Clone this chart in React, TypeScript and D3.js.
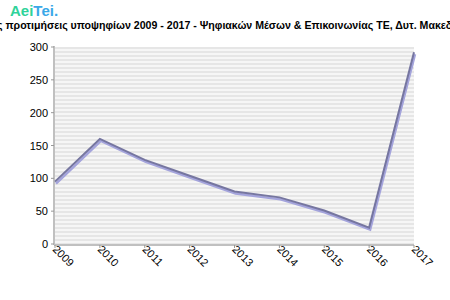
import React from "react";
import * as d3 from "d3";

const years = ["2009", "2010", "2011", "2012", "2013", "2014", "2015", "2016", "2017"];
const values = [95, 160, 128, 104, 80, 71, 51, 25, 292];
const yTicks = [0, 50, 100, 150, 200, 250, 300];
const title = "Πρώτες προτιμήσεις υποψηφίων 2009 - 2017 - Ψηφιακών Μέσων & Επικοινωνίας ΤΕ, Δυτ. Μακεδονίας";

const W = 450, H = 300;
const left = 55, right = 414, top = 47, bottom = 244;

export default function App() {
  const x = d3.scalePoint<string>().domain(years).range([left, right]);
  const y = d3.scaleLinear().domain([0, 300]).range([bottom, top]);
  const pts: [number, number][] = years.map((yr, i) => [x(yr)!, y(values[i])]);
  const line = d3.line<[number, number]>();
  const stripes: number[] = [];
  for (let yy = top; yy < bottom; yy += 4) stripes.push(yy);
  return (
    <div style={{ position: "absolute", left: 0, top: 0 }}>
      <svg width={W} height={H} style={{ display: "block", fontFamily: "Liberation Sans, Arial, sans-serif" }}>
        <rect x={0} y={0} width={W} height={H} fill="#fff" />
        <text x={10} y={16} fontSize={15} fontWeight="bold" fontFamily="Liberation Sans, Arial, sans-serif">
          <tspan fill="#2fd39a">Aei</tspan>
          <tspan fill="#3aa8e8">Tei.</tspan>
        </text>
        <text x={222} y={29} fontSize={10.6} fontWeight="bold" textAnchor="middle" fill="#000">{title}</text>
        <rect x={left} y={top} width={right - left} height={bottom - top} fill="#f6f6f6" />
        {stripes.map((s, i) => (
          <rect key={i} x={left} y={s} width={right - left} height={2} fill="#e6e6e6" />
        ))}
        <line x1={left - 1} x2={left - 1} y1={top - 1} y2={bottom + 1} stroke="#c0c0c0" strokeWidth={2} />
        <line x1={left - 1} x2={right} y1={bottom + 1} y2={bottom + 1} stroke="#c0c0c0" strokeWidth={2} />
        {yTicks.map((t) => (
          <g key={t}>
            <line x1={left - 4} x2={left - 1} y1={y(t)} y2={y(t)} stroke="#999" />
            <text x={left - 7} y={y(t) + 4} fontSize={11} textAnchor="end" fill="#000">{t}</text>
          </g>
        ))}
        {years.map((yr) => (
          <g key={yr}>
            <line x1={x(yr)!} x2={x(yr)!} y1={bottom + 1} y2={bottom + 4} stroke="#999" />
            <text transform={`translate(${x(yr)! - 3},${bottom + 6}) rotate(45)`} fontSize={11} fill="#000">{yr}</text>
          </g>
        ))}
        <path d={line(pts.map(([a, b]) => [a + 1, b + 2]) as [number, number][])!} fill="none" stroke="#a4a4dc" strokeWidth={2.5} />
        <path d={line(pts)!} fill="none" stroke="#7676a0" strokeWidth={2} />
      </svg>
    </div>
  );
}
